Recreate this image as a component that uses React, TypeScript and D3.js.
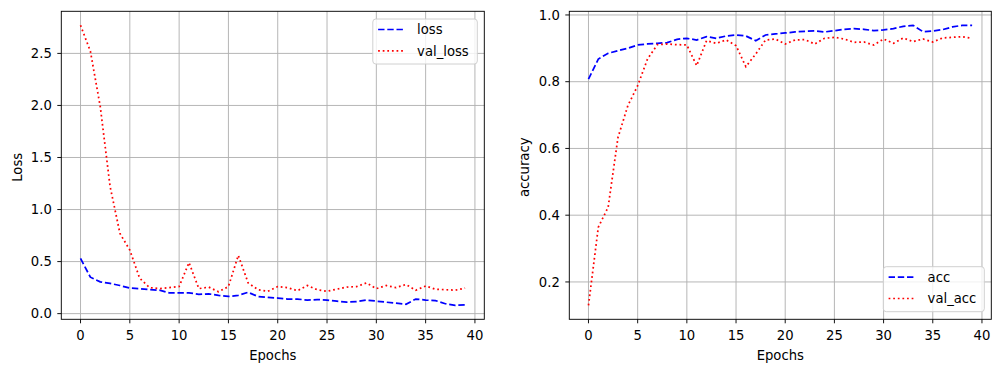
import * as d3 from "d3";

const epochs = d3.range(40);
const loss = [0.53, 0.35, 0.305, 0.29, 0.27, 0.245, 0.24, 0.23, 0.225, 0.2, 0.2, 0.2, 0.185, 0.19, 0.175, 0.165, 0.175, 0.205, 0.165, 0.155,
  0.15, 0.14, 0.14, 0.13, 0.135, 0.13, 0.12, 0.11, 0.115, 0.13, 0.12, 0.11, 0.1, 0.09, 0.14, 0.13, 0.125, 0.095, 0.08, 0.085];
const valLoss = [2.77, 2.52, 1.99, 1.22, 0.77, 0.61, 0.34, 0.25, 0.24, 0.25, 0.26, 0.49, 0.24, 0.255, 0.21, 0.26, 0.56, 0.295, 0.23, 0.215,
  0.26, 0.25, 0.22, 0.27, 0.23, 0.215, 0.235, 0.255, 0.26, 0.295, 0.24, 0.27, 0.25, 0.28, 0.225, 0.265, 0.235, 0.23, 0.225, 0.245];
const acc = [0.808, 0.868, 0.885, 0.893, 0.9, 0.91, 0.913, 0.915, 0.917, 0.927, 0.93, 0.925, 0.935, 0.93, 0.937, 0.94, 0.937, 0.923, 0.94, 0.943,
  0.946, 0.949, 0.951, 0.952, 0.949, 0.953, 0.957, 0.959, 0.957, 0.953, 0.955, 0.959, 0.966, 0.969, 0.95, 0.952, 0.956, 0.964, 0.969, 0.969];
const valAcc = [0.13, 0.364, 0.424, 0.633, 0.728, 0.788, 0.868, 0.911, 0.913, 0.911, 0.91, 0.848, 0.923, 0.915, 0.925, 0.908, 0.845, 0.883, 0.925, 0.928,
  0.913, 0.925, 0.926, 0.913, 0.93, 0.933, 0.928, 0.918, 0.919, 0.91, 0.928, 0.915, 0.931, 0.92, 0.928, 0.919, 0.931, 0.933, 0.935, 0.93];

const xTicks = [0, 5, 10, 15, 20, 25, 30, 35, 40];
const lossTicks = [0, 0.5, 1.0, 1.5, 2.0, 2.5];
const accTicks = [0.2, 0.4, 0.6, 0.8, 1.0];

const FONT = "DejaVu Sans, sans-serif";
const FS = 13.2;
const TOP = 11.3;
const BOTTOM = 319.3;
const DASH = "6.4,2.8";
const DOT = "1.74,2.87";

interface Series {
  name: string;
  values: number[];
  color: string;
  dash: string;
}

interface PanelProps {
  left: number;
  right: number;
  series: Series[];
  yTicks: number[];
  yLabel: string;
  yLabelX: number;
  legendPos: "upper" | "lower";
}

function padded(lo: number, hi: number): [number, number] {
  const r = hi - lo;
  return [lo - 0.05 * r, hi + 0.05 * r];
}

function Panel({ left, right, series, yTicks, yLabel, yLabelX, legendPos }: PanelProps) {
  const xScale = d3.scaleLinear().domain(padded(0, 39)).range([left, right]);
  const all = series.flatMap((s) => s.values);
  const yScale = d3
    .scaleLinear()
    .domain(padded(d3.min(all) as number, d3.max(all) as number))
    .range([BOTTOM, TOP]);

  const line = d3
    .line<number>()
    .x((_, i) => xScale(epochs[i]))
    .y((d) => yScale(d));

  // legend box
  const lw = legendPos === "upper" ? 104.5 : 101;
  const lh = 45;
  const lx = right - 7 - lw;
  const ly = legendPos === "upper" ? TOP + 7.7 : BOTTOM - 7.6 - lh;

  return (
    <g>
      <defs>
        <clipPath id={`clip${left}`}>
          <rect x={left} y={TOP} width={right - left} height={BOTTOM - TOP} />
        </clipPath>
      </defs>
      {xTicks.map((t) => (
        <line key={"gx" + t} x1={xScale(t)} x2={xScale(t)} y1={TOP} y2={BOTTOM} stroke="#b0b0b0" strokeWidth={0.93} />
      ))}
      {yTicks.map((t) => (
        <line key={"gy" + t} x1={left} x2={right} y1={yScale(t)} y2={yScale(t)} stroke="#b0b0b0" strokeWidth={0.93} />
      ))}
      <g clipPath={`url(#clip${left})`}>
        {series.map((s) => (
          <path key={s.name} d={line(s.values) as string} fill="none" stroke={s.color} strokeWidth={1.74} strokeDasharray={s.dash} />
        ))}
      </g>
      <rect x={left} y={TOP} width={right - left} height={BOTTOM - TOP} fill="none" stroke="#000" strokeWidth={0.93} />
      {xTicks.map((t) => (
        <g key={"tx" + t}>
          <line x1={xScale(t)} x2={xScale(t)} y1={BOTTOM} y2={BOTTOM + 4} stroke="#000" strokeWidth={0.93} />
          <text x={xScale(t)} y={BOTTOM + 20.5} textAnchor="middle" fontSize={FS} fontFamily={FONT} fill="#000">
            {t}
          </text>
        </g>
      ))}
      {yTicks.map((t) => (
        <g key={"ty" + t}>
          <line x1={left - 4} x2={left} y1={yScale(t)} y2={yScale(t)} stroke="#000" strokeWidth={0.93} />
          <text x={left - 9.5} y={yScale(t)} dy="0.36em" textAnchor="end" fontSize={FS} fontFamily={FONT} fill="#000">
            {t.toFixed(1)}
          </text>
        </g>
      ))}
      <text x={(left + right) / 2} y={359.5} textAnchor="middle" fontSize={FS} fontFamily={FONT} fill="#000">
        Epochs
      </text>
      <text
        transform={`translate(${yLabelX},${(TOP + BOTTOM) / 2 + 2}) rotate(-90)`}
        textAnchor="middle"
        fontSize={FS}
        fontFamily={FONT}
        fill="#000"
      >
        {yLabel}
      </text>
      <rect x={lx} y={ly} width={lw} height={lh} rx={3} fill="#fff" fillOpacity={0.8} stroke="#cccccc" strokeWidth={0.93} />
      {series.map((s, i) => {
        const ry = ly + 10.5 + i * 21.3;
        return (
          <g key={"lg" + s.name}>
            <line x1={lx + 5.3} x2={lx + 32.7} y1={ry} y2={ry} stroke={s.color} strokeWidth={1.74} strokeDasharray={s.dash} />
            <text x={lx + 44.3} y={ry} dy="0.36em" fontSize={FS} fontFamily={FONT} fill="#000">
              {s.name}
            </text>
          </g>
        );
      })}
    </g>
  );
}

export default function App() {
  return (
    <svg width={1001} height={372} style={{ display: "block", position: "absolute", left: 0, top: 0 }}>
      <rect width={1001} height={372} fill="#fff" />
      <Panel
        left={61.3}
        right={484.3}
        series={[
          { name: "loss", values: loss, color: "#0000ff", dash: DASH },
          { name: "val_loss", values: valLoss, color: "#ff0000", dash: DOT },
        ]}
        yTicks={lossTicks}
        yLabel="Loss"
        yLabelX={21.5}
        legendPos="upper"
      />
      <Panel
        left={569.3}
        right={991.3}
        series={[
          { name: "acc", values: acc, color: "#0000ff", dash: DASH },
          { name: "val_acc", values: valAcc, color: "#ff0000", dash: DOT },
        ]}
        yTicks={accTicks}
        yLabel="accuracy"
        yLabelX={528.5}
        legendPos="lower"
      />
    </svg>
  );
}
